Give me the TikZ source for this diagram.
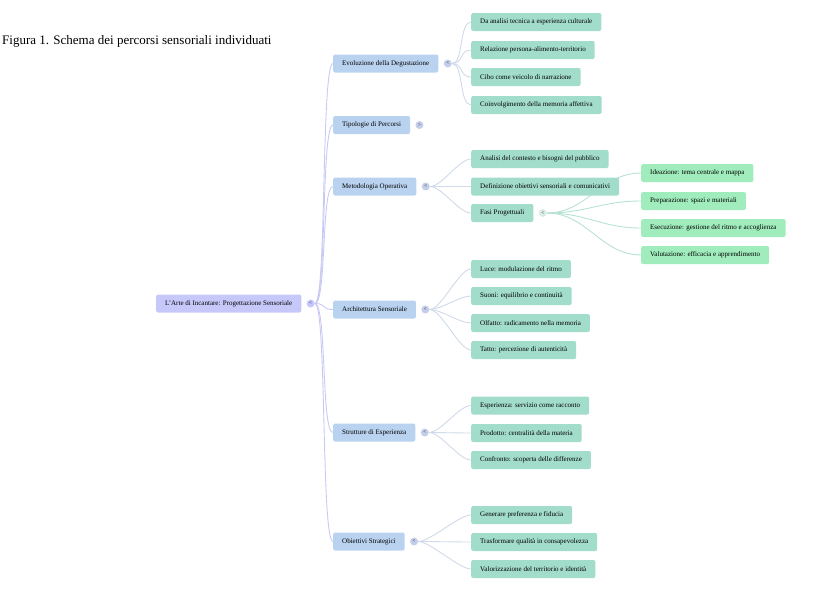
\documentclass[tikz,border=0pt]{standalone}
\usepackage{fontspec}
\setmainfont{Liberation Serif}
\usetikzlibrary{positioning, calc, backgrounds}
\definecolor{colRoot}{RGB}{198, 200, 250}
\definecolor{colMain}{RGB}{185, 210, 239}
\definecolor{colSub}{RGB}{162, 220, 203}
\definecolor{colLeaf}{RGB}{160, 236, 188}
\definecolor{lnRoot}{RGB}{200, 202, 243}
\definecolor{lnMain}{RGB}{208, 218, 233}
\definecolor{lnSub}{RGB}{182, 226, 212}
\definecolor{colTog}{RGB}{196, 206, 232}

\begin{document}
\begin{tikzpicture}[x=1pt, y=-1pt,
    box/.style={rounded corners=2pt, anchor=west, minimum height=18pt,
        inner xsep=9pt, font=\fontsize{7}{8}\selectfont},
    rootbox/.style={box, fill=colRoot},
    mainbox/.style={box, fill=colMain},
    subbox/.style={box, fill=colSub},
    leafbox/.style={box, fill=colLeaf},
    tog/.style={circle, inner sep=0pt, minimum size=8pt, fill=colTog,
        font=\fontsize{5}{5}\selectfont, right=5pt of #1},
    rootln/.style={draw=lnRoot, line width=0.9pt},
    mainln/.style={draw=lnMain, line width=0.9pt},
    subln/.style={draw=lnSub, line width=0.9pt}]
    \useasboundingbox (0, 0) rectangle (820, 590);

    % titolo
    \node[anchor=west, font=\fontsize{13}{15}\selectfont, inner sep=0pt] (title) at (2, 41) {Figura 1. Schema dei percorsi sensoriali individuati};

    % radice
    \node[rootbox] (root) at (156, 303.5) {L'Arte di Incantare: Progettazione Sensoriale};
    \node[tog=root, fill=colRoot!80!blue!60] (rootT) {<};

    % primo livello
    \node[mainbox] (evo) at (333, 63.5) {Evoluzione della Degustazione};
    \node[mainbox] (tip) at (333, 125) {Tipologie di Percorsi};
    \node[mainbox] (met) at (333, 186.5) {Metodologia Operativa};
    \node[mainbox] (arc) at (333, 309.5) {Architettura Sensoriale};
    \node[mainbox] (str) at (333, 432.5) {Strutture di Esperienza};
    \node[mainbox] (obi) at (333, 541.5) {Obiettivi Strategici};
    \node[tog=evo] (evoT) {<};
    \node[tog=tip] (tipT) {>};
    \node[tog=met] (metT) {<};
    \node[tog=arc] (arcT) {<};
    \node[tog=str] (strT) {<};
    \node[tog=obi] (obiT) {<};
    \foreach \n in {evo, tip, met, arc, str, obi}
        \scoped[on background layer] \draw[rootln] (rootT.east) .. controls +(12, 0) and +(-12, 0) .. (\n.west);

    % Evoluzione
    \foreach \n/\y/\t in {e1/22/{Da analisi tecnica a esperienza culturale},
        e2/50/{Relazione persona-alimento-territorio},
        e3/77/{Cibo come veicolo di narrazione},
        e4/105/{Coinvolgimento della memoria affettiva}} {
        \node[subbox] (\n) at (471, \y) {\t};
        \scoped[on background layer] \draw[mainln] (evoT.east) .. controls +(12, 0) and +(-12, 0) .. (\n.west);
    }

    % Metodologia
    \foreach \n/\y/\t in {m1/159/{Analisi del contesto e bisogni del pubblico},
        m2/186.5/{Definizione obiettivi sensoriali e comunicativi},
        m3/213/{Fasi Progettuali}} {
        \node[subbox] (\n) at (471, \y) {\t};
        \scoped[on background layer] \draw[mainln] (metT.east) .. controls +(12, 0) and +(-12, 0) .. (\n.west);
    }
    \node[tog=m3, fill=colSub!85!black!30] (m3T) {<};

    % Fasi progettuali
    \foreach \n/\y/\t in {f1/173/{Ideazione: tema centrale e mappa},
        f2/201/{Preparazione: spazi e materiali},
        f3/228/{Esecuzione: gestione del ritmo e accoglienza},
        f4/255/{Valutazione: efficacia e apprendimento}} {
        \node[leafbox] (\n) at (641, \y) {\t};
        \scoped[on background layer] \draw[subln] (m3T.east) .. controls +(40, 0) and +(-40, 0) .. (\n.west);
    }

    % Architettura
    \foreach \n/\y/\t in {a1/269/{Luce: modulazione del ritmo},
        a2/296/{Suoni: equilibrio e continuità},
        a3/323/{Olfatto: radicamento nella memoria},
        a4/350/{Tatto: percezione di autenticità}} {
        \node[subbox] (\n) at (471, \y) {\t};
        \scoped[on background layer] \draw[mainln] (arcT.east) .. controls +(12, 0) and +(-12, 0) .. (\n.west);
    }

    % Strutture
    \foreach \n/\y/\t in {s1/405.5/{Esperienza: servizio come racconto},
        s2/433/{Prodotto: centralità della materia},
        s3/460/{Confronto: scoperta delle differenze}} {
        \node[subbox] (\n) at (471, \y) {\t};
        \scoped[on background layer] \draw[mainln] (strT.east) .. controls +(12, 0) and +(-12, 0) .. (\n.west);
    }

    % Obiettivi
    \foreach \n/\y/\t in {o1/515/{Generare preferenza e fiducia},
        o2/542/{Trasformare qualità in consapevolezza},
        o3/569/{Valorizzazione del territorio e identità}} {
        \node[subbox] (\n) at (471, \y) {\t};
        \scoped[on background layer] \draw[mainln] (obiT.east) .. controls +(12, 0) and +(-12, 0) .. (\n.west);
    }
\end{tikzpicture}
\end{document}
